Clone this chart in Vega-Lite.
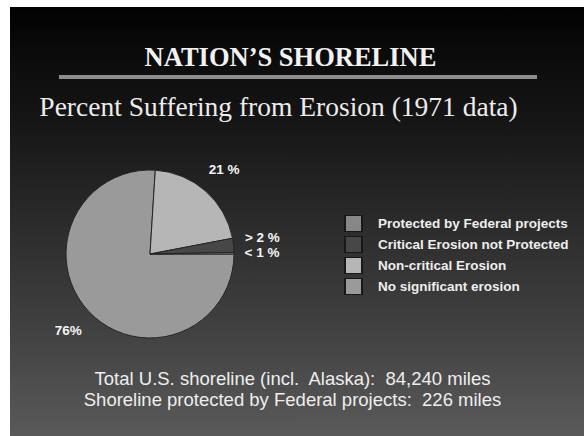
{
  "$schema": "https://vega.github.io/schema/vega-lite/v6.json",
  "background": "white",
  "padding": {"left": 10, "top": 7, "right": 0, "bottom": 0},
  "config": {
    "view": {"stroke": null},
    "concat": {"spacing": 0}
  },
  "title": {
    "text": ["Total U.S. shoreline (incl.\u00a0 Alaska):\u00a0 84,240 miles", "Shoreline protected by Federal projects:\u00a0 226 miles"],
    "orient": "bottom",
    "anchor": "middle",
    "offset": -66.5,
    "dx": -4.5,
    "font": "Liberation Sans",
    "fontSize": 18.5,
    "fontWeight": "normal",
    "lineHeight": 21,
    "color": "#eeeeee"
  },
  "spacing": 0,
  "vconcat": [
    {
      "width": 574,
      "height": 68,
      "view": {"fill": {"gradient": "linear", "x1": 0, "y1": 0, "x2": 0, "y2": 1, "stops": [{"offset": 0, "color": "#020202"}, {"offset": 1, "color": "#0f0f0f"}]}},
      "title": {
        "text": "NATION\u2019S SHORELINE",
        "orient": "top",
        "anchor": "middle",
        "offset": -64.5,
        "dx": -6.5,
        "font": "Liberation Serif",
        "fontSize": 26.5,
        "fontWeight": "bold",
        "color": "#f2f2f2"
      },
      "data": {"values": []},
      "mark": "text"
    },
    {
      "spacing": 0,
      "hconcat": [
        {
          "width": 49,
          "height": 4,
          "view": {"fill": "#0f0f0f"},
          "data": {"values": []},
          "mark": "text"
        },
        {
          "width": 478,
          "height": 4,
          "view": {"fill": "#8e8e8e"},
          "data": {"values": []},
          "mark": "text"
        },
        {
          "width": 47,
          "height": 4,
          "view": {"fill": "#0f0f0f"},
          "data": {"values": []},
          "mark": "text"
        }
      ]
    },
    {
      "spacing": 0,
      "title": {
        "text": "Percent Suffering from Erosion (1971 data)",
        "orient": "top",
        "anchor": "middle",
        "offset": -42,
        "dx": -18.5,
        "font": "Liberation Serif",
        "fontSize": 27.5,
        "fontWeight": "normal",
        "color": "#ececec"
      },
      "hconcat": [
        {
          "spacing": 0,
          "vconcat": [
            {
              "width": 280,
              "height": 350,
              "view": {"fill": {"gradient": "linear", "x1": 0, "y1": 0, "x2": 0, "y2": 1, "stops": [{"offset": 0, "color": "#0f0f0f"}, {"offset": 0.117, "color": "#151515"}, {"offset": 0.397, "color": "#2a2a2a"}, {"offset": 0.717, "color": "#414141"}, {"offset": 1, "color": "#585858"}]}},
              "data": {
                "values": [
                  {"category": "No significant erosion", "pct": 76, "label": "76%"},
                  {"category": "Non-critical Erosion", "pct": 21, "label": "21 %"},
                  {"category": "Critical Erosion not Protected", "pct": 2.7, "label": "> 2 %"},
                  {"category": "Protected by Federal projects", "pct": 0.3, "label": "< 1 %"}
                ]
              },
              "encoding": {
                "theta": {"field": "pct", "type": "quantitative", "stack": true, "scale": {"range": [1.570796, 7.853982]}},
                "order": {"field": "pct", "type": "quantitative", "sort": "descending"}
              },
              "layer": [
                {
                  "mark": {"type": "arc", "outerRadius": 84, "stroke": "#262626", "strokeWidth": 1},
                  "encoding": {
                    "color": {
                      "field": "category",
                      "type": "nominal",
                      "scale": {
                        "domain": ["Protected by Federal projects", "Critical Erosion not Protected", "Non-critical Erosion", "No significant erosion"],
                        "range": ["#878787", "#474747", "#b6b6b6", "#9a9a9a"]
                      },
                      "legend": {
                        "orient": "none",
                        "legendX": 334,
                        "legendY": 208,
                        "title": null,
                        "padding": 0,
                        "symbolType": "square",
                        "symbolSize": 289,
                        "symbolStrokeColor": "#181818",
                        "symbolStrokeWidth": 2,
                        "symbolOpacity": 1,
                        "clipHeight": 17,
                        "rowPadding": 4,
                        "labelOffset": 15,
                        "labelFont": "Liberation Sans",
                        "labelFontWeight": "bold",
                        "labelFontSize": 13.5,
                        "labelColor": "#eeeeee",
                        "labelLimit": 300,
                        "labelExpr": "datum.label == 'No significant erosion' ? '\u00a0No significant erosion' : datum.label"
                      }
                    }
                  }
                },
                {
                  "mark": {"type": "text", "radius": 112, "font": "Liberation Sans", "fontWeight": "bold", "fontSize": 13.5, "fill": "#f4f4f4", "align": "center", "baseline": "middle"},
                  "encoding": {
                    "detail": {"field": "category", "type": "nominal"},
                    "text": {"condition": {"test": "datum.category !== 'Critical Erosion not Protected'", "field": "label"}, "value": ""}
                  }
                },
                {
                  "mark": {"type": "text", "radius": 113, "font": "Liberation Sans", "fontWeight": "bold", "fontSize": 13.5, "fill": "#f4f4f4", "align": "center", "baseline": "alphabetic"},
                  "encoding": {
                    "detail": {"field": "category", "type": "nominal"},
                    "text": {"condition": {"test": "datum.category === 'Critical Erosion not Protected'", "field": "label"}, "value": ""}
                  }
                }
              ]
            },
            {
              "width": 280,
              "height": 7,
              "view": {"fill": {"gradient": "linear", "x1": 0, "y1": 0, "x2": 0, "y2": 1, "stops": [{"offset": 0, "color": "#585858"}, {"offset": 1, "color": "#5a5a5a"}]}},
              "data": {"values": []},
              "mark": "text"
            }
          ]
        },
        {
          "width": 294,
          "height": 357,
          "view": {"fill": {"gradient": "linear", "x1": 0, "y1": 0, "x2": 0, "y2": 1, "stops": [{"offset": 0, "color": "#0f0f0f"}, {"offset": 0.115, "color": "#151515"}, {"offset": 0.389, "color": "#2a2a2a"}, {"offset": 0.703, "color": "#414141"}, {"offset": 1, "color": "#5a5a5a"}]}},
          "data": {"values": []},
          "mark": "text"
        }
      ]
    }
  ]
}
